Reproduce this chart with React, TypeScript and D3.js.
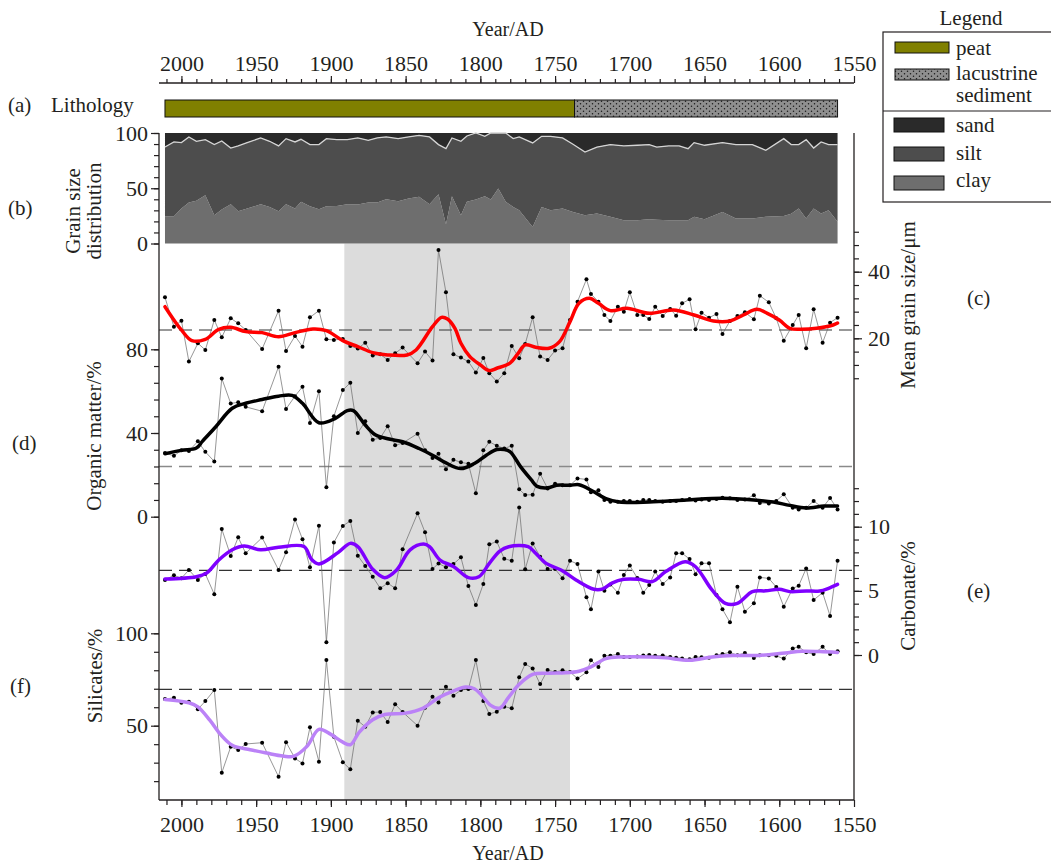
import React, { useEffect, useRef } from "react";
import * as d3 from "d3";

// sample ages (AD) shared by the four proxy records
const years = [
  2011, 2005, 2000, 1995, 1989, 1984, 1978, 1973, 1967, 1962,
  1957, 1946, 1935, 1930, 1924, 1919, 1914, 1908, 1903, 1898,
  1892, 1887, 1882, 1877, 1872, 1867, 1862, 1857, 1852, 1842,
  1837, 1832, 1828, 1823, 1818, 1813, 1808, 1803, 1798, 1794,
  1789, 1784, 1779, 1774, 1770, 1765, 1760, 1755, 1750, 1745,
  1740, 1735, 1729, 1726, 1721, 1717, 1713, 1708, 1704, 1700,
  1695, 1691, 1687, 1683, 1678, 1673, 1669, 1665, 1660, 1656,
  1652, 1647, 1642, 1638, 1633, 1628, 1623, 1617, 1613, 1607,
  1602, 1597, 1591, 1587, 1582, 1577, 1571, 1566, 1561,
];

const meanGrain = [
  32.3, 23.5, 25.3, 13.0, 18.5, 16.5, 25.5, 20.3, 26.0, 24.5,
  22.5, 16.8, 28.3, 16.2, 20.7, 17.5, 26.3, 28.3, 19.7, 19.5,
  19.8, 17.7, 16.9, 18.7, 14.8, 15.2, 13.5, 15.5, 17.2, 12.5,
  16.0, 13.3, 46.5, 33.8, 15.2, 14.2, 13.0, 9.7, 14.1, 9.5,
  7.0, 9.5, 17.7, 14.0, 18.3, 26.3, 14.5, 13.5, 16.3, 17.0,
  25.5, 31.0, 37.7, 33.3, 31.0, 27.0, 25.2, 29.5, 28.0, 33.8,
  27.0, 27.0, 25.8, 29.5, 26.7, 28.8, 26.8, 30.5, 31.7, 22.7,
  27.7, 26.2, 27.3, 21.3, 25.2, 26.7, 27.8, 25.7, 32.8, 30.8,
  26.0, 19.3, 24.0, 27.0, 17.0, 28.7, 18.7, 24.7, 26.2,
];

const organicMatter = [
  30.4, 29.1, 31.7, 31.4, 36.0, 31.0, 26.4, 66.1, 54.1, 54.7,
  52.5, 50.4, 71.7, 51.5, 57.6, 62.1, 44.8, 60.0, 14.1, 48.0,
  60.5, 64.0, 40.0, 45.6, 36.8, 37.6, 43.2, 34.1, 35.2, 39.7,
  31.7, 28.0, 30.1, 22.7, 27.2, 26.0, 25.3, 11.2, 31.7, 35.8,
  33.9, 32.6, 33.9, 13.1, 10.4, 10.5, 20.5, 13.5, 15.8, 15.0,
  15.0, 18.3, 17.8, 11.7, 12.7, 8.0, 7.2, 7.2, 7.5, 7.5,
  7.2, 8.0, 8.0, 7.5, 7.2, 7.5, 7.5, 8.0, 8.4, 7.8,
  8.2, 8.0, 8.5, 9.0, 8.8, 8.0, 8.2, 10.2, 6.6, 6.3,
  7.5, 10.7, 4.3, 3.5, 4.3, 7.5, 4.3, 8.9, 3.5,
];

const carbonate = [
  5.85, 6.21, 5.98, 6.63, 5.85, 6.32, 4.73, 9.82, 7.72, 9.17,
  7.93, 9.15, 6.63, 8.0, 10.57, 9.02, 6.83, 10.08, 1.0, 8.76,
  10.06, 10.45, 7.74, 6.94, 6.1, 5.2, 5.6, 5.2, 8.24, 11.04,
  9.56, 6.7, 7.14, 6.83, 7.09, 7.61, 5.38, 3.89, 5.54, 8.63,
  8.84, 7.5, 7.35, 11.5, 6.68, 8.7, 7.66, 6.7, 6.7, 5.98,
  7.35, 7.09, 4.5, 3.56, 6.5, 5.0, 5.5, 4.85, 6.24, 6.97,
  6.0, 4.85, 5.45, 6.5, 5.53, 6.05, 7.93, 7.93, 7.48, 6.3,
  7.15, 7.15, 4.68, 3.56, 2.55, 5.32, 3.38, 4.03, 6.05, 5.97,
  5.3, 3.77, 5.19, 5.4, 6.75, 4.29, 4.86, 3.04, 7.35,
];

const silicates = [
  64.4, 65.1, 62.4, 63.0, 58.9, 63.3, 69.3, 24.5, 38.6, 36.8,
  40.1, 40.8, 22.4, 41.1, 32.3, 29.6, 49.1, 30.5, 85.5, 44.0,
  30.2, 26.4, 52.7, 49.4, 57.2, 57.4, 52.0, 61.6, 57.4, 50.0,
  59.7, 65.7, 62.6, 71.1, 66.2, 69.3, 69.8, 85.5, 63.3, 56.3,
  57.6, 60.3, 59.4, 76.2, 83.4, 81.0, 72.5, 80.1, 79.0, 80.0,
  79.1, 75.5, 78.9, 85.4, 81.8, 87.9, 87.9, 88.8, 87.2, 87.2,
  87.5, 88.0, 88.2, 87.8, 88.0, 87.2, 86.8, 86.4, 85.9, 87.2,
  87.0, 86.8, 88.1, 88.8, 89.7, 88.1, 89.4, 86.7, 88.1, 88.1,
  87.8, 86.3, 91.8, 92.7, 89.7, 88.8, 92.7, 88.8, 90.3,
];

// smoothed trends, [year, value]
const meanGrainTrend: [number, number][] = [
  [2011, 29.5], [2005, 25.5], [2000, 22.5], [1993, 19.3], [1984, 19.7], [1975, 22.7],
  [1967, 23.3], [1957, 22.0], [1946, 21.7], [1935, 20.5], [1924, 21.7], [1912, 22.8],
  [1903, 22.3], [1892, 19.3], [1882, 17.5], [1872, 15.7], [1862, 15.0], [1849, 15.0],
  [1843, 16.5], [1832, 23.5], [1826, 26.3], [1822, 25.8], [1817, 23.0], [1813, 18.5],
  [1807, 14.5], [1800, 12.0], [1794, 10.3], [1789, 11.0], [1780, 12.6], [1775, 15.3],
  [1770, 18.0], [1763, 17.3], [1754, 17.0], [1747, 19.0], [1740, 25.0], [1734, 30.5],
  [1727, 32.0], [1721, 30.5], [1713, 28.3], [1702, 29.0], [1687, 27.5], [1671, 28.5],
  [1657, 27.0], [1644, 25.2], [1633, 25.2], [1624, 27.0], [1615, 28.7], [1608, 27.5],
  [1600, 25.5], [1593, 23.0], [1586, 22.7], [1575, 23.0], [1564, 24.0], [1561, 24.6],
];

const organicTrend: [number, number][] = [
  [2011, 30.1], [2000, 31.7], [1990, 32.8], [1986, 36.0], [1977, 43.0], [1966, 51.8],
  [1957, 54.2], [1946, 56.0], [1935, 57.6], [1926, 58.0], [1919, 54.2], [1908, 44.9],
  [1897, 47.0], [1889, 50.7], [1885, 50.7], [1877, 43.8], [1870, 39.0], [1861, 37.1],
  [1852, 35.8], [1841, 32.6], [1832, 29.4], [1823, 25.7], [1813, 23.0], [1804, 25.4],
  [1796, 29.4], [1789, 32.1], [1784, 32.1], [1780, 31.0], [1773, 23.8], [1766, 17.7],
  [1762, 14.5], [1755, 13.8], [1749, 15.0], [1740, 15.0], [1734, 15.3], [1725, 12.3],
  [1716, 8.6], [1707, 7.0], [1687, 7.0], [1662, 8.0], [1638, 8.8], [1617, 8.0],
  [1604, 7.0], [1593, 5.4], [1582, 4.2], [1570, 5.1], [1561, 5.1],
];

const carbonateTrend: [number, number][] = [
  [2011, 5.92], [1990, 6.1], [1983, 6.4], [1975, 7.4], [1966, 8.2], [1958, 8.5],
  [1947, 8.2], [1935, 8.4], [1918, 8.45], [1913, 7.46], [1908, 7.1], [1895, 8.0],
  [1887, 8.7], [1882, 8.45], [1872, 6.68], [1864, 6.03], [1856, 6.63], [1847, 8.2],
  [1838, 8.65], [1834, 8.45], [1827, 7.4], [1818, 6.9], [1808, 6.03], [1801, 6.1],
  [1794, 7.14], [1787, 8.1], [1781, 8.44], [1768, 8.44], [1763, 7.93], [1756, 7.14],
  [1746, 6.63], [1736, 5.85], [1724, 5.12], [1718, 5.15], [1712, 5.6], [1704, 5.9],
  [1694, 5.9], [1685, 5.72], [1676, 6.5], [1663, 7.27], [1656, 6.88], [1645, 5.07],
  [1636, 4.03], [1628, 4.03], [1618, 4.94], [1609, 5.0], [1600, 5.12], [1593, 4.94],
  [1582, 4.99], [1573, 4.99], [1567, 5.2], [1561, 5.5],
];

const silicatesTrend: [number, number][] = [
  [2011, 64.2], [1995, 62.4], [1989, 60.2], [1981, 53.0], [1974, 45.4], [1966, 39.4],
  [1954, 37.0], [1943, 35.2], [1932, 33.6], [1925, 33.4], [1916, 38.8], [1908, 48.0],
  [1900, 45.3], [1892, 41.1], [1887, 39.7], [1881, 46.5], [1872, 53.2], [1864, 56.1],
  [1850, 56.8], [1839, 59.2], [1828, 65.1], [1817, 69.1], [1810, 70.9], [1804, 70.0],
  [1799, 66.4], [1793, 61.0], [1787, 59.5], [1781, 65.5], [1774, 72.4], [1765, 77.8],
  [1754, 78.4], [1743, 78.6], [1734, 79.5], [1726, 81.8], [1716, 86.3], [1705, 87.2],
  [1687, 87.2], [1676, 86.7], [1660, 85.4], [1645, 87.2], [1631, 88.0], [1614, 88.0],
  [1596, 89.4], [1585, 90.3], [1573, 90.1], [1561, 89.6],
];

// long-term means (dashed lines)
const meanGrainAvg = 22.5;
const organicAvg = 24;
const carbonateAvg = 6.6;
const silicatesAvg = 69.7;

// grain size distribution (%)
const gsYears = [
  2011, 2005, 2000, 1995, 1990, 1984, 1978, 1973, 1967, 1962,
  1956, 1947, 1941, 1935, 1930, 1924, 1920, 1914, 1908, 1903,
  1896, 1889, 1882, 1875, 1869, 1863, 1855, 1848, 1841, 1834,
  1828, 1823, 1819, 1813, 1809, 1803, 1797, 1793, 1788, 1783,
  1778, 1774, 1765, 1759, 1753, 1745, 1738, 1730, 1722, 1713,
  1704, 1695, 1687, 1682, 1674, 1667, 1661, 1657, 1650, 1638,
  1629, 1618, 1609, 1597, 1592, 1587, 1582, 1577, 1572, 1567,
  1561,
];
const gsClay = [
  24.7, 24.7, 31.6, 37.0, 38.6, 43.7, 25.6, 30.7, 35.5, 29.2,
  31.6, 35.5, 33.1, 29.2, 35.5, 31.6, 37.7, 33.7, 31.0, 33.7,
  34.0, 35.5, 35.2, 37.0, 37.0, 40.1, 38.3, 40.7, 42.2, 35.5,
  44.6, 17.5, 42.8, 25.6, 37.7, 39.8, 42.8, 39.8, 49.7, 37.7,
  33.1, 30.1, 15.0, 33.1, 30.1, 31.6, 28.6, 25.6, 27.1, 24.1,
  21.1, 21.1, 22.0, 21.5, 21.1, 21.1, 21.1, 24.1, 22.0, 28.6,
  22.6, 22.6, 24.1, 25.0, 27.0, 31.6, 22.6, 31.6, 27.1, 30.1,
  19.6,
];
// clay + silt (the rest is sand)
const gsClaySilt = [
  87.3, 91.9, 91.3, 96.4, 92.5, 94.0, 89.5, 92.8, 86.4, 88.3,
  91.3, 95.5, 92.5, 88.3, 94.9, 91.9, 94.3, 89.5, 89.5, 94.9,
  94.0, 94.0, 95.5, 93.4, 95.5, 96.4, 94.9, 96.4, 97.9, 96.4,
  89.5, 85.8, 95.5, 92.5, 97.3, 100, 97.0, 100, 100, 100,
  94.9, 96.4, 91.0, 97.0, 97.0, 95.5, 89.8, 82.8, 87.3, 89.5,
  88.3, 88.9, 89.5, 87.3, 88.3, 88.3, 85.8, 91.3, 88.9, 91.3,
  89.5, 89.5, 84.3, 94.9, 89.5, 89.5, 94.0, 86.4, 91.9, 89.5,
  89.5,
];

const lithology = [
  { name: "peat", from: 2011, to: 1737 },
  { name: "lacustrine sediment", from: 1737, to: 1561 },
];
const shadedPeriod = [1891, 1740];

const App = () => {
  const svgRef = useRef<SVGSVGElement>(null);
  const W = 1051;
  const H = 866;

  useEffect(() => {
    const svg = d3.select(svgRef.current);
    svg.selectAll("*").remove();
    const FONT = "'Liberation Serif', 'Times New Roman', serif";
    const INK = "#231f20";
    const LEFT = 159;
    const RIGHT = 854;

    const x = d3.scaleLinear().domain([2015, 1550]).range([LEFT, RIGHT]);
    const yGS = d3.scaleLinear().domain([0, 100]).range([243.5, 133]);
    const yMG = d3.scaleLinear().domain([20, 40]).range([338.3, 271.7]);
    const yOM = d3.scaleLinear().domain([0, 80]).range([516.7, 349.3]);
    const yCarb = d3.scaleLinear().domain([0, 10]).range([655, 526.7]);
    const ySil = d3.scaleLinear().domain([50, 100]).range([725.7, 633.3]);

    const defs = svg.append("defs");
    const pat = defs
      .append("pattern")
      .attr("id", "lacPat")
      .attr("width", 6)
      .attr("height", 5)
      .attr("patternUnits", "userSpaceOnUse");
    pat.append("rect").attr("width", 6).attr("height", 5).attr("fill", "#8f8f8f");
    pat.append("circle").attr("cx", 1.5).attr("cy", 1.2).attr("r", 0.75).attr("fill", "#1a1a1a");
    pat.append("circle").attr("cx", 4.5).attr("cy", 3.7).attr("r", 0.75).attr("fill", "#1a1a1a");

    // shaded interval
    svg
      .append("rect")
      .attr("x", x(shadedPeriod[0]))
      .attr("y", 243.5)
      .attr("width", x(shadedPeriod[1]) - x(shadedPeriod[0]))
      .attr("height", 800 - 243.5)
      .attr("fill", "#dcdcdc");

    // lithology bar
    svg
      .append("g")
      .selectAll("rect")
      .data(lithology)
      .join("rect")
      .attr("x", (d) => x(d.from))
      .attr("y", 100)
      .attr("width", (d) => x(d.to) - x(d.from))
      .attr("height", 17)
      .attr("fill", (d) => (d.name === "peat" ? "#808000" : "url(#lacPat)"))
      .attr("stroke", "#111")
      .attr("stroke-width", 1);

    // grain size stack
    const gsRows = gsYears.map((yr, i) => ({
      year: yr,
      clay: gsClay[i],
      silt: gsClaySilt[i] - gsClay[i],
      sand: 100 - gsClaySilt[i],
    }));
    const stacked = d3.stack<any>().keys(["clay", "silt", "sand"])(gsRows);
    const gsColor: Record<string, string> = { clay: "#6e6e6e", silt: "#4d4d4d", sand: "#2a2a2a" };
    const area = d3
      .area<any>()
      .x((d) => x(d.data.year))
      .y0((d) => yGS(d[0]))
      .y1((d) => yGS(d[1]));
    svg
      .append("g")
      .selectAll("path")
      .data(stacked)
      .join("path")
      .attr("d", (s: any) => area(s))
      .attr("fill", (s: any) => gsColor[s.key]);
    svg
      .append("path")
      .attr(
        "d",
        d3
          .line<any>()
          .x((d) => x(d.year))
          .y((d) => yGS(d.clay + d.silt))(gsRows)
      )
      .attr("fill", "none")
      .attr("stroke", "#d4d4d4")
      .attr("stroke-width", 1.3);

    // mean lines
    const dashed = (yv: number, color: string, w: number) =>
      svg
        .append("line")
        .attr("x1", LEFT)
        .attr("x2", RIGHT)
        .attr("y1", yv)
        .attr("y2", yv)
        .attr("stroke", color)
        .attr("stroke-width", w)
        .attr("stroke-dasharray", "13,7");
    dashed(yMG(meanGrainAvg), "#333", 1.2);
    dashed(yOM(organicAvg), "#8a8a8a", 1.6);
    dashed(yCarb(carbonateAvg), "#333", 1.2);
    dashed(ySil(silicatesAvg), "#333", 1.2);

    const raw = (vals: number[], y: d3.ScaleLinear<number, number>) => {
      const pts: [number, number][] = years.map((yr, i) => [x(yr), y(vals[i])]);
      svg
        .append("path")
        .attr("d", d3.line()(pts))
        .attr("fill", "none")
        .attr("stroke", "#6a6a6a")
        .attr("stroke-width", 0.7);
      svg
        .append("g")
        .selectAll("circle")
        .data(pts)
        .join("circle")
        .attr("cx", (d) => d[0])
        .attr("cy", (d) => d[1])
        .attr("r", 2)
        .attr("fill", "#000");
    };
    const trend = (knots: [number, number][], y: d3.ScaleLinear<number, number>, color: string) => {
      const line = d3
        .line<[number, number]>()
        .x((d) => x(d[0]))
        .y((d) => y(d[1]))
        .curve(d3.curveCatmullRom.alpha(0.5));
      svg
        .append("path")
        .attr("d", line(knots))
        .attr("fill", "none")
        .attr("stroke", color)
        .attr("stroke-width", 3.5)
        .attr("stroke-linejoin", "round")
        .attr("stroke-linecap", "round");
    };

    raw(meanGrain, yMG);
    raw(organicMatter, yOM);
    raw(carbonate, yCarb);
    raw(silicates, ySil);
    trend(meanGrainTrend, yMG, "#ff0000");
    trend(organicTrend, yOM, "#000000");
    trend(carbonateTrend, yCarb, "#7f00ff");
    trend(silicatesTrend, ySil, "#bb82f7");

    // axes
    const styleAxis = (g: d3.Selection<SVGGElement, unknown, null, undefined>) => {
      g.select(".domain").remove();
      g.selectAll("line").attr("stroke", INK).attr("stroke-width", 1.2);
      g.selectAll("text").attr("font-family", FONT).attr("font-size", 22).attr("fill", INK);
    };
    const yearMinor = d3.range(1560, 2011, 10);
    const yearMajor = d3.range(1550, 2001, 50);

    const topMin = svg.append("g").attr("transform", "translate(0,83)")
      .call(d3.axisTop(x).tickValues(yearMinor).tickSize(4).tickFormat(() => ""));
    const topMaj = svg.append("g").attr("transform", "translate(0,83)")
      .call(d3.axisTop(x).tickValues(yearMajor).tickSize(7).tickPadding(5).tickFormat(d3.format("d")));
    const botMin = svg.append("g").attr("transform", "translate(0,800)")
      .call(d3.axisBottom(x).tickValues(yearMinor).tickSize(5).tickFormat(() => ""));
    const botMaj = svg.append("g").attr("transform", "translate(0,800)")
      .call(d3.axisBottom(x).tickValues(yearMajor).tickSize(7).tickPadding(9).tickFormat(d3.format("d")));
    [topMin, topMaj, botMin, botMaj].forEach((g) => styleAxis(g as any));

    const leftSeg = (scale: d3.ScaleLinear<number, number>, minor: number[], major: number[]) => {
      const a = svg.append("g").attr("transform", `translate(${LEFT},0)`)
        .call(d3.axisLeft(scale).tickValues(minor).tickSize(5).tickFormat(() => ""));
      const b = svg.append("g").attr("transform", `translate(${LEFT},0)`)
        .call(d3.axisLeft(scale).tickValues(major).tickSize(8).tickPadding(3).tickFormat(d3.format("d")));
      styleAxis(a as any);
      styleAxis(b as any);
    };
    const rightSeg = (scale: d3.ScaleLinear<number, number>, minor: number[], major: number[]) => {
      const a = svg.append("g").attr("transform", `translate(${RIGHT},0)`)
        .call(d3.axisRight(scale).tickValues(minor).tickSize(5).tickFormat(() => ""));
      const b = svg.append("g").attr("transform", `translate(${RIGHT},0)`)
        .call(d3.axisRight(scale).tickValues(major).tickSize(8).tickPadding(6).tickFormat(d3.format("d")));
      styleAxis(a as any);
      styleAxis(b as any);
    };
    leftSeg(yGS, d3.range(0, 101, 10), [0, 50, 100]);
    leftSeg(yOM, d3.range(0, 81, 8), [0, 40, 80]);
    leftSeg(ySil, d3.range(20, 101, 10), [50, 100]);
    rightSeg(yMG, d3.range(8, 53, 4), [20, 40]);
    rightSeg(yCarb, d3.range(0, 14, 1), [0, 5, 10]);

    const axLine = (x1: number, y1: number, x2: number, y2: number) =>
      svg.append("line").attr("x1", x1).attr("y1", y1).attr("x2", x2).attr("y2", y2)
        .attr("stroke", INK).attr("stroke-width", 1.3);
    axLine(LEFT, 83, RIGHT, 83);
    axLine(LEFT, 800, RIGHT, 800);
    axLine(LEFT, 133, LEFT, 800);
    axLine(RIGHT, 133, RIGHT, 800);

    // texts
    const text = (t: string, tx: number, ty: number, size = 21, anchor = "start", rot = false) =>
      svg
        .append("text")
        .text(t)
        .attr("transform", rot ? `translate(${tx},${ty}) rotate(-90)` : `translate(${tx},${ty})`)
        .attr("text-anchor", anchor)
        .attr("font-family", FONT)
        .attr("font-size", size)
        .attr("fill", INK);

    text("Year/AD", 508, 36, 20, "middle");
    text("Year/AD", 508, 860, 20, "middle");
    text("(a)", 8, 112);
    text("Lithology", 51, 112);
    text("(b)", 8, 215);
    text("Grain size", 80, 211, 21, "middle", true);
    text("distribution", 101, 211, 21, "middle", true);
    text("(c)", 967, 305);
    text("Mean grain size/μm", 915, 305, 21, "middle", true);
    text("(d)", 12, 450);
    text("Organic matter/%", 101, 436, 21, "middle", true);
    text("(e)", 967, 598);
    text("Carbonate/%", 915, 596, 21, "middle", true);
    text("(f)", 10, 693);
    text("Silicates/%", 102, 676, 21, "middle", true);

    // legend
    text("Legend", 971, 25, 21, "middle");
    const lg = svg.append("g");
    lg.append("rect").attr("x", 883).attr("y", 32).attr("width", 200).attr("height", 170)
      .attr("fill", "none").attr("stroke", INK).attr("stroke-width", 1.2);
    lg.append("line").attr("x1", 883).attr("x2", 1083).attr("y1", 111).attr("y2", 111)
      .attr("stroke", INK).attr("stroke-width", 1.2);
    const sw = (sx: number, sy: number, w: number, h: number, fill: string) =>
      lg.append("rect").attr("x", sx).attr("y", sy).attr("width", w).attr("height", h)
        .attr("fill", fill).attr("stroke", "#111").attr("stroke-width", 1);
    sw(895, 42, 54, 11, "#808000");
    sw(895, 69, 54, 11, "url(#lacPat)");
    sw(894, 118, 50, 14, gsColor.sand);
    sw(894, 147, 50, 14, gsColor.silt);
    sw(894, 176, 50, 14, gsColor.clay);
    text("peat", 956, 55);
    text("lacustrine", 956, 80);
    text("sediment", 956, 102);
    text("sand", 956, 132);
    text("silt", 956, 160);
    text("clay", 956, 187);
  }, []);

  return (
    <div style={{ position: "absolute", left: 0, top: 0, width: W, height: H, overflow: "hidden" }}>
      <svg ref={svgRef} width={W} height={H} style={{ display: "block", background: "#fff" }} />
    </div>
  );
};

export default App;
